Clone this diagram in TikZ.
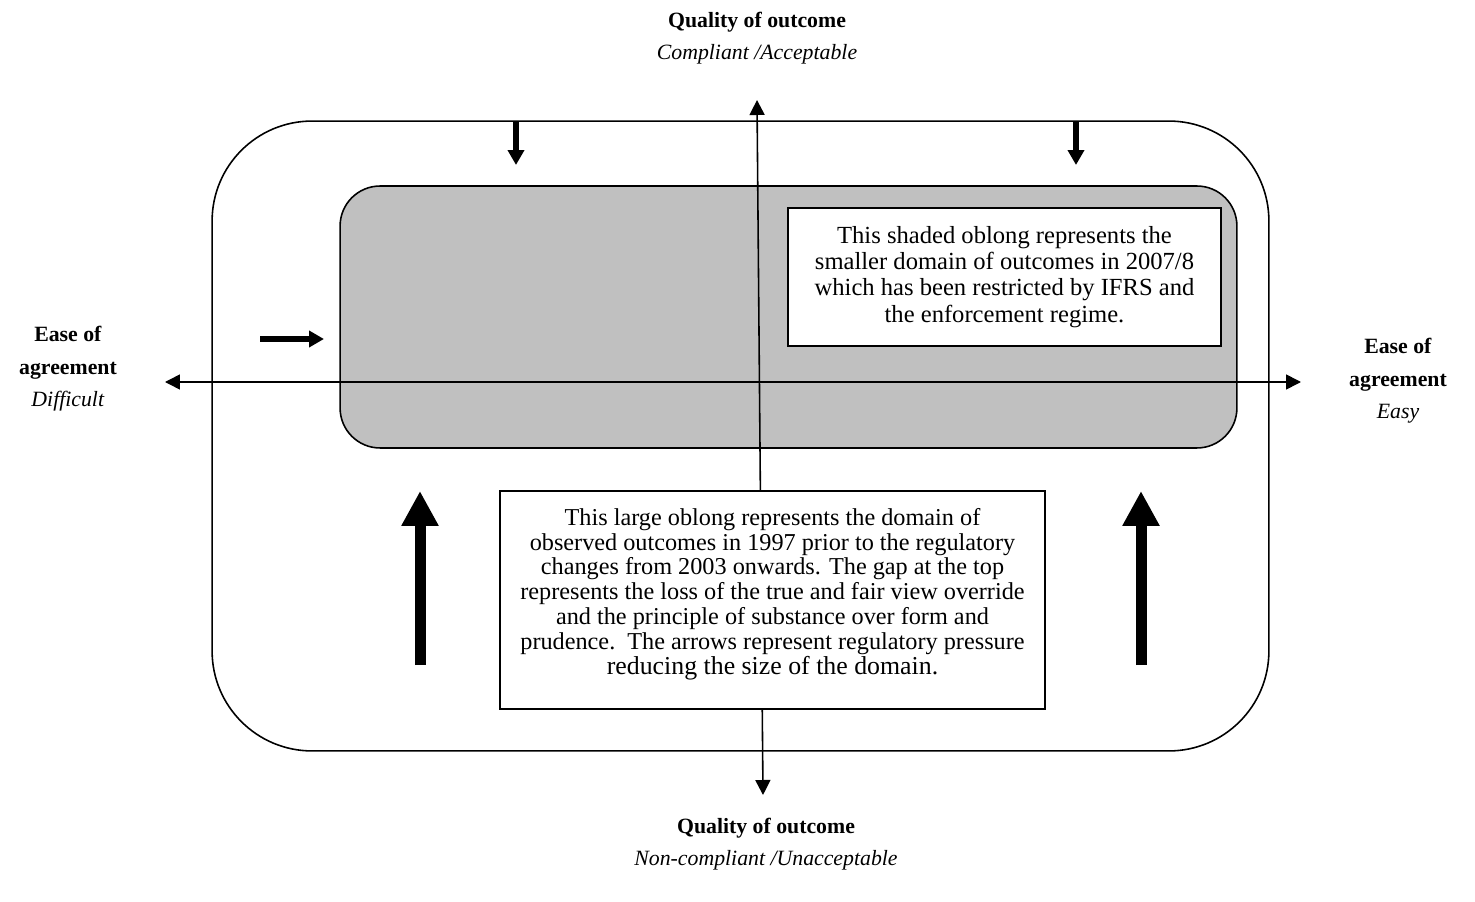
\documentclass[tikz,border=0pt]{standalone}
\usepackage{fontspec}
\setmainfont{Liberation Serif}
\usetikzlibrary{arrows.meta}
\begin{document}
\begin{tikzpicture}[x=0.02cm,y=-0.02cm,
  thinline/.style={line width=0.9pt},
  axisarrow/.style={thinline,{Triangle[length=0.3cm,width=0.3cm]}-{Triangle[length=0.3cm,width=0.3cm]}},
  smallarrow/.style={line width=3.5pt,-{Triangle[length=0.3cm,width=0.32cm]}},
  bigarrow/.style={line width=0.22cm,-{Triangle[length=0.7cm,width=0.7cm]}},
  txt/.style={font=\fontsize{13.8}{14.1}\selectfont, align=center},
  lbl/.style={font=\fontsize{12.4}{18.5}\selectfont, align=center, inner sep=0pt},
  textbox/.style={draw, thinline, fill=white, align=center, inner sep=0pt}
]
\useasboundingbox (0,0) rectangle (1475,902);

% outer large oblong
\node[draw, thinline, rounded corners=2cm, minimum width=21.14cm, minimum height=12.6cm, inner sep=0pt] (outer) at (740.5,436) {};
% shaded smaller oblong
\node[draw, thinline, fill={rgb,255:red,192;green,192;blue,192}, rounded corners=0.8cm, minimum width=17.94cm, minimum height=5.24cm, inner sep=0pt] (shaded) at (788.5,317) {};

% axes
\coordinate (hl) at (165,382);
\coordinate (hr) at (1301,382);
\coordinate (vt) at (757,100);
\coordinate (vb) at (763,795);
\draw[axisarrow] (hl) -- (hr);
\draw[axisarrow] (vb) -- (vt);

% small box
\node[textbox, minimum width=8.66cm, minimum height=2.76cm] (small) at (1004.5,277) {};
\node[txt, font=\fontsize{14}{14.9}\selectfont] (smalltext) at (small.center) {This shaded oblong represents the\\smaller domain of outcomes in 2007/8\\which has been restricted by IFRS and\\the enforcement regime.};

% large box
\node[textbox, minimum width=10.9cm, minimum height=4.36cm] (large) at (772.5,600) {};
\node[txt] (largetext) at ([yshift=0.12cm]large.center) {This large oblong represents the domain of\\observed outcomes in 1997 prior to the regulatory\\changes from 2003 onwards. The gap at the top\\represents the loss of the true and fair view override\\and the principle of substance over form and\\prudence.\ \ The arrows represent regulatory pressure\\{\fontsize{14.7}{14.1}\selectfont reducing the size of the domain.}};

% small arrows
\coordinate (a1s) at (516,122); \coordinate (a1e) at (516,165);
\coordinate (a2s) at (1076,122); \coordinate (a2e) at (1076,165);
\coordinate (a3s) at (260,339); \coordinate (a3e) at (324,339);
\draw[smallarrow] (a1s) -- (a1e);
\draw[smallarrow] (a2s) -- (a2e);
\draw[smallarrow] (a3s) -- (a3e);

% big arrows
\coordinate (b1s) at (420,665); \coordinate (b1e) at (420,491);
\coordinate (b2s) at (1141,665); \coordinate (b2e) at (1141,491);
\draw[bigarrow] (b1s) -- (b1e);
\draw[bigarrow] (b2s) -- (b2e);

% labels
\node[lbl] (top) at (757,38) {\textbf{Quality of outcome}\\\textit{Compliant /Acceptable}};
\node[lbl] (bottom) at (766,844) {\textbf{Quality of outcome}\\\textit{Non-compliant /Unacceptable}};
\node[lbl] (left) at (68,369) {\textbf{Ease of}\\\textbf{agreement}\\\textit{Difficult}};
\node[lbl] (right) at (1398,381) {\textbf{Ease of}\\\textbf{agreement}\\\textit{Easy}};
\end{tikzpicture}
\end{document}
